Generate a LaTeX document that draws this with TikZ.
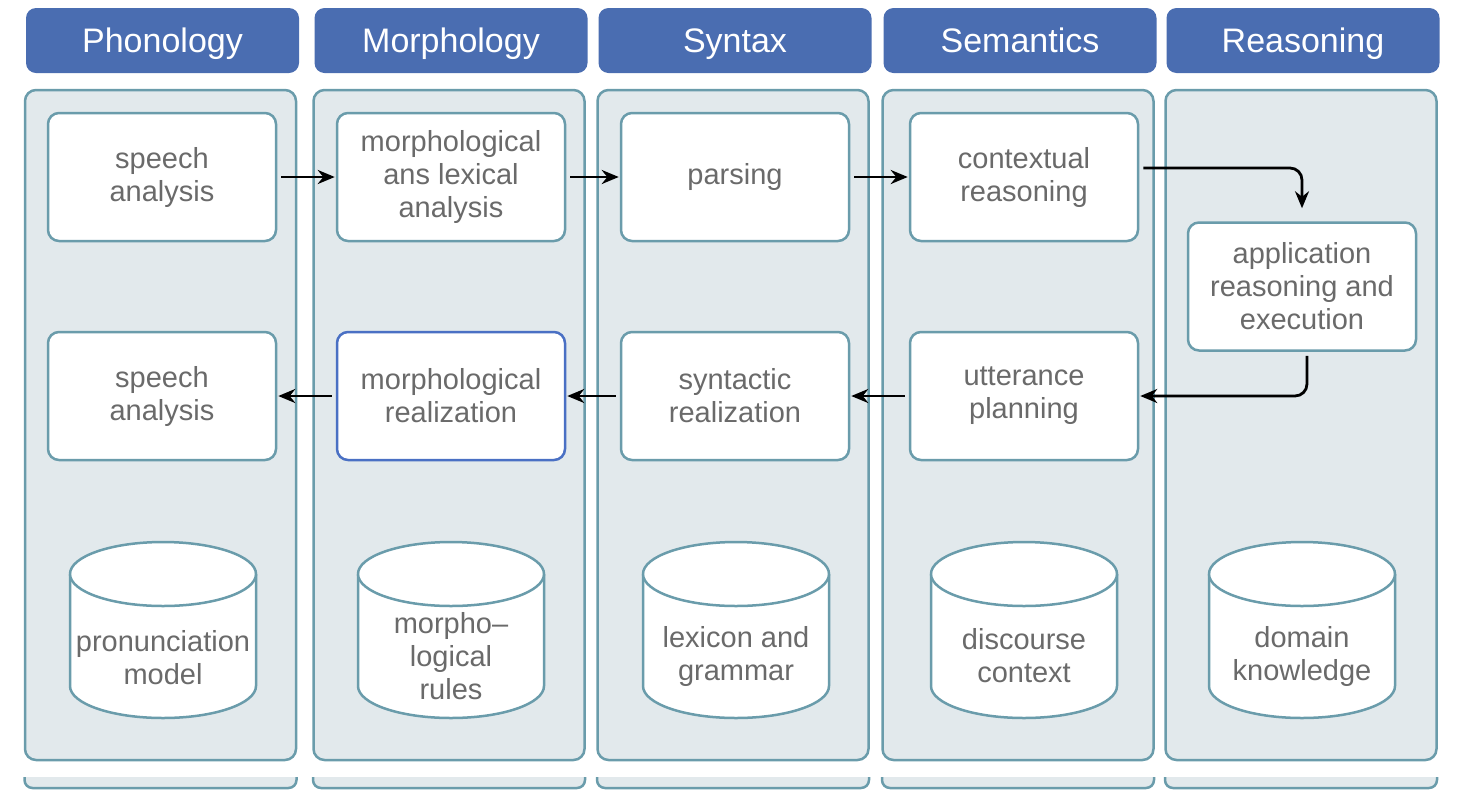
\documentclass[tikz,border=0pt]{standalone}
\usepackage{fontspec}
\setmainfont{Liberation Sans}
\usetikzlibrary{arrows.meta}

\definecolor{headblue}{HTML}{4A6DB1}
\definecolor{laneline}{HTML}{6A9CAB}
\definecolor{lanefill}{HTML}{E2E9EC}
\definecolor{txtgrey}{HTML}{6A6A6A}
\definecolor{pickblue}{HTML}{4A70C4}

\tikzset{
  head/.style={fill=headblue, rounded corners=10pt, minimum width=273pt, minimum height=65pt,
    text=white, text height=24pt, text depth=0pt, font=\fontsize{34}{38}\selectfont},
  lane/.style={draw=laneline, fill=lanefill, line width=2.5pt, rounded corners=11pt,
    minimum width=271pt, minimum height=670pt},
  task/.style={draw=laneline, fill=white, line width=2.5pt, rounded corners=11pt,
    minimum width=228pt, minimum height=128pt, align=center, text=txtgrey,
    font=\fontsize{29}{33}\selectfont},
  storeline/.style={draw=laneline, fill=white, line width=2.5pt},
  storetext/.style={align=center, text=txtgrey, font=\fontsize{29}{33}\selectfont},
  flow/.style={-{Stealth[length=17pt,width=14pt]}, line width=2.8pt, shorten <=4pt, shorten >=1pt}
}

\begin{document}
\begin{tikzpicture}[x=1pt,y=-1pt]
  \useasboundingbox (0,0) rectangle (1464,804);
  % columns
  \foreach \x/\lanename in {160.5/Phonology, 449/Morphology, 733/Syntax, 1018/Semantics, 1301/Reasoning}{
    \node[head] (head\lanename) at (\x+2,40.5) {\lanename};
    \node[lane] (lane\lanename) at (\x,425) {};
    \filldraw[draw=laneline, fill=lanefill, line width=2.5pt, rounded corners=8pt]
      (\x-136,777) -- (\x-136,788) -- (\x+136,788) -- (\x+136,777);
  }

  % tasks
  \node[task] (speechin) at (162,177) {speech\\analysis};
  \node[task] (lexan) at (451,177) {morphological\\ans lexical\\analysis};
  \node[task] (parse) at (735,177) {parsing};
  \node[task] (context) at (1024,177) {contextual\\reasoning};
  \node[task] (apply) at (1302,286.5) {application\\reasoning and\\execution};
  \node[task] (plan) at (1024,396) {utterance\\planning};
  \node[task] (synreal) at (735,396) {syntactic\\realization};
  \node[task, draw=pickblue] (morphreal) at (451,396) {morphological\\realization};
  \node[task] (speechout) at (162,396) {speech\\analysis};

  % stores
  \foreach \cx in {163,451,736,1024,1302}{
    \filldraw[storeline] (\cx-93,574) -- (\cx-93,686)
      arc[start angle=180, end angle=360, x radius=93pt, y radius=32pt] -- (\cx+93,574)
      arc[start angle=0, end angle=180, x radius=93pt, y radius=32pt] -- cycle;
    \draw[storeline] (\cx-93,574) arc[start angle=180, end angle=360, x radius=93pt, y radius=32pt];
  }
  \node[storetext] (pron) at (163,658) {pronunciation\\model};
  \node[storetext] (rules) at (451,656) {morpho--\\logical\\rules};
  \node[storetext] (lexicon) at (736,656) {lexicon and\\grammar};
  \node[storetext] (discourse) at (1024,656) {discourse\\context};
  \node[storetext] (domain) at (1302,656) {domain\\knowledge};

  % flows
  \draw[flow] (speechin) -- (lexan);
  \draw[flow] (lexan) -- (parse);
  \draw[flow] (parse) -- (context);
  \draw[flow, rounded corners=12pt, shorten >=13pt] ([yshift=9pt]context.east) -| (apply.north);
  \draw[flow, rounded corners=12pt] ([xshift=5pt]apply.south) |- (plan.east);
  \draw[flow] (plan) -- (synreal);
  \draw[flow] (synreal) -- (morphreal);
  \draw[flow] (morphreal) -- (speechout);
\end{tikzpicture}
\end{document}
